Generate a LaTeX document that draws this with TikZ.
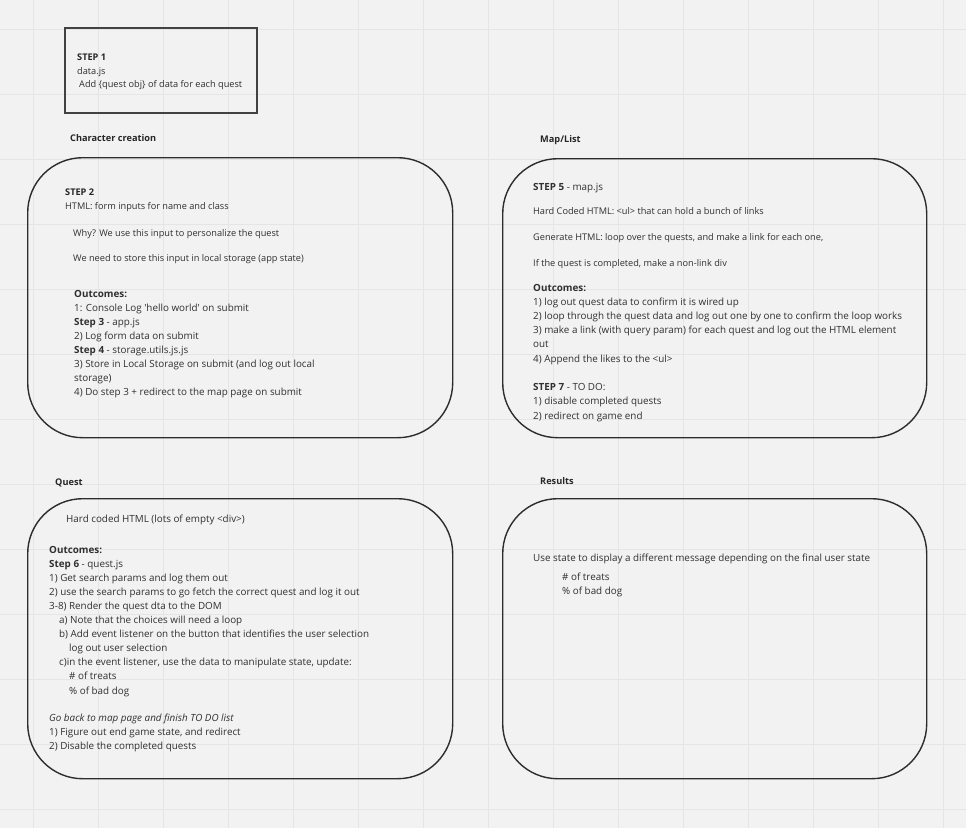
\documentclass[tikz,border=0pt]{standalone}
\usepackage{fontspec}
\setmainfont{Open Sans}
\definecolor{paper}{RGB}{242,242,242}
\definecolor{gridcol}{RGB}{229,229,229}
\definecolor{edge}{RGB}{45,45,45}
\definecolor{ink}{RGB}{48,48,48}
\tikzset{
  panel/.style={draw=edge, line width=1.4pt, rounded corners=55pt, anchor=north west, inner sep=0pt},
  txt/.style={anchor=base west, inner sep=0pt, text=ink, font=\fontsize{9.2}{11}\selectfont},
  bigtxt/.style={txt, font=\fontsize{9.85}{12}\selectfont},
  heading/.style={txt, text=black!85, font=\fontsize{9.2}{11}\selectfont\bfseries},
}
\begin{document}
\begin{tikzpicture}[x=1pt, y=-1pt]
        % Paper and grid
        \fill[paper] (0,0) rectangle (966,828);
        \useasboundingbox (0,0) rectangle (966,828);
        \foreach \x in {33,98,...,943} {
            \draw[gridcol, line width=0.8pt] (\x,0) -- (\x,828);
        }
        \foreach \y in {29,94,...,809} {
            \draw[gridcol, line width=0.8pt] (0,\y) -- (966,\y);
        }

        % Step 1 card
        \node[draw=edge!90, line width=2pt, anchor=north west, inner sep=0pt,
              minimum width=192pt, minimum height=85pt] (step1) at (64,27) {};
        \node[heading] (s1-title) at (77,60) {STEP 1};
        \node[txt] (s1-file) at (77,74) {data.js};
        \node[txt] (s1-note) at (79,87) {Add \{quest obj\} of data for each quest};

        % Panels
        \node[panel, minimum width=425pt, minimum height=280pt] (charbox) at (27,157) {};
        \node[panel, minimum width=424pt, minimum height=279pt] (mapbox) at (502,158) {};
        \node[panel, minimum width=425pt, minimum height=280pt] (questbox) at (27,498) {};
        \node[panel, minimum width=424pt, minimum height=280pt] (resultbox) at (502,498) {};

        % Panel titles
        \node[heading] (t-char) at (70,141) {Character creation};
        \node[heading] (t-map) at (540,142) {Map/List};
        \node[heading] (t-quest) at (55,485) {Quest};
        \node[heading] (t-result) at (540,484) {Results};

        % Character creation
        \node[heading] (cc-step) at (65,195) {STEP 2};
        \node[txt] (cc-html) at (65,209) {HTML: form inputs for name and class};
        \node[txt] (cc-why) at (73,236) {Why? We use this input to personalize the quest};
        \node[txt] (cc-store) at (73,261) {We need to store this input in local storage (app state)};
        \foreach \ln [count=\i from 0] in {
            {\textbf{Outcomes:}},
            {1: Console Log \textquotesingle hello world\textquotesingle{} on submit},
            {\textbf{Step 3} - app.js},
            {2) Log form data on submit},
            {\textbf{Step 4} - storage.utils.js.js},
            {3) Store in Local Storage on submit (and log out local},
            {storage)},
            {4) Do step 3 + redirect to the map page on submit}} {
            \node[bigtxt] (cc-\i) at (74,297+14*\i) {\ln};
        }

        % Map/List
        \node[bigtxt] (map-step) at (533,190) {\textbf{STEP 5} - map.js};
        \node[txt] (map-ul) at (533,214) {Hard Coded HTML: <ul> that can hold a bunch of links};
        \node[txt] (map-gen) at (533,240) {Generate HTML: loop over the quests, and make a link for each one,};
        \node[txt] (map-done) at (533,266) {If the quest is completed, make a non-link div};
        \foreach \ln [count=\i from 0] in {
            {\textbf{Outcomes:}},
            {1) log out quest data to confirm it is wired up},
            {2) loop through the quest data and log out one by one to confirm the loop works},
            {3) make a link (with query param) for each quest and log out the HTML element},
            {out},
            {4) Append the likes to the <ul>}} {
            \node[bigtxt] (map-\i) at (533,291+14.2*\i) {\ln};
        }
        \foreach \ln [count=\i from 0] in {
            {\textbf{STEP 7} - TO DO:},
            {1) disable completed quests},
            {2) redirect on game end}} {
            \node[bigtxt] (todo-\i) at (533,390+14.5*\i) {\ln};
        }

        % Quest
        \node[bigtxt] (q-html) at (66,522) {Hard coded HTML (lots of empty <div>)};
        \foreach \ln [count=\i from 0] in {
            {\textbf{Outcomes:}},
            {\textbf{Step 6} - quest.js},
            {1) Get search params and log them out},
            {2) use the search params to go fetch the correct quest and log it out},
            {3-8) Render the quest dta to the DOM},
            {\hspace*{10pt}a) Note that the choices will need a loop},
            {\hspace*{10pt}b) Add event listener on the button that identifies the user selection},
            {\hspace*{20pt}log out user selection},
            {\hspace*{10pt}c)in the event listener, use the data to manipulate state, update:},
            {\hspace*{20pt}\# of treats},
            {\hspace*{20pt}\% of bad dog}} {
            \node[bigtxt] (q-\i) at (49,553+14.1*\i) {\ln};
        }
        \foreach \ln [count=\i from 0] in {
            {\textit{Go back to map page and finish TO DO list}},
            {1) Figure out end game state, and redirect},
            {2) Disable the completed quests}} {
            \node[bigtxt] (back-\i) at (49,721+14*\i) {\ln};
        }

        % Results
        \node[bigtxt] (r-msg) at (533,561) {Use state to display a different message depending on the final user state};
        \node[bigtxt] (r-treats) at (562,580) {\# of treats};
        \node[bigtxt] (r-bad) at (562,594) {\% of bad dog};
    \end{tikzpicture}
\end{document}
